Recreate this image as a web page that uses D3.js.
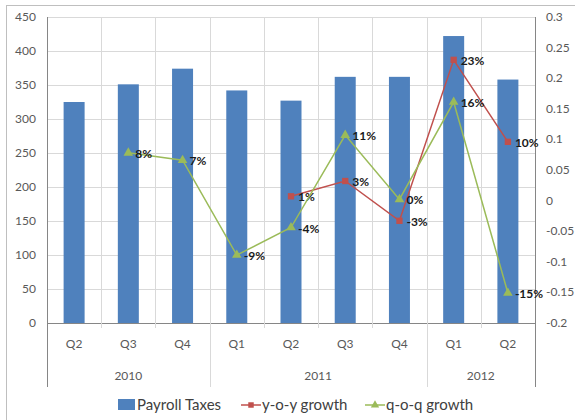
<!DOCTYPE html>
<html>
<head>
<meta charset="utf-8">
<script src="https://cdn.jsdelivr.net/npm/d3@7"></script>
<style>
  body { margin: 0; background: #fff; }
  svg text { font-family: Lato, "Open Sans", sans-serif; }
</style>
</head>
<body>
<div id="chart"></div>
<script>
(function(d3) {
  'use strict';

  var quarters = ['Q2', 'Q3', 'Q4', 'Q1', 'Q2', 'Q3', 'Q4', 'Q1', 'Q2'];
  var years = ['2010', '2010', '2010', '2011', '2011', '2011', '2011', '2012', '2012'];
  var payroll = [325, 351, 374, 342, 327, 362, 362, 422, 358];
  var yoy = [null, null, null, null, 0.007, 0.032, -0.033, 0.23, 0.096];
  var qoq = [null, 0.078, 0.066, -0.089, -0.044, 0.107, 0.002, 0.161, -0.151];
  var leftTicks = [0, 50, 100, 150, 200, 250, 300, 350, 400, 450];
  var rightTicks = [-0.2, -0.15, -0.1, -0.05, 0, 0.05, 0.1, 0.15, 0.2, 0.25, 0.3];

  var width = 575, height = 420;
  var left = 47, right = 535, top = 17, bottom = 323;
  var blue = '#4F81BD', red = '#C0504D', green = '#9BBB59';
  var grid = '#D9D9D9', axisColor = '#868686', textColor = '#595959';

  var svg = d3.select('#chart').append('svg')
    .attr('width', width).attr('height', height);

  // chart border
  svg.append('rect')
    .attr('x', 6.5).attr('y', 5.5)
    .attr('width', width + 10).attr('height', height + 10)
    .attr('fill', '#fff').attr('stroke', '#BFBFBF');

  var idx = d3.range(quarters.length);
  var x = d3.scaleBand().domain(idx).range([left, right]);
  var yL = d3.scaleLinear().domain([0, 450]).range([bottom, top]);
  var yR = d3.scaleLinear().domain([-0.2, 0.3]).range([bottom, top]);

  // horizontal gridlines
  svg.selectAll('.hgrid').data(leftTicks).enter().append('line')
    .attr('x1', left).attr('x2', right)
    .attr('y1', function(d) { return Math.round(yL(d)) + 0.5; })
    .attr('y2', function(d) { return Math.round(yL(d)) + 0.5; })
    .attr('stroke', function(d) { return d === 0 ? axisColor : grid; });

  // vertical gridlines / category ticks
  var bounds = d3.range(quarters.length + 1);
  svg.selectAll('.vgrid').data(bounds).enter().append('line')
    .attr('x1', function(d) { return Math.round(left + d * x.step()) + 0.5; })
    .attr('x2', function(d) { return Math.round(left + d * x.step()) + 0.5; })
    .attr('y1', top)
    .attr('y2', function(d) {
      var isGroup = d === 0 || d === quarters.length || years[d] !== years[d - 1];
      return isGroup ? 387 : bottom + 5;
    })
    .attr('stroke', function(d) {
      return (d === 0 || d === quarters.length) ? axisColor : grid;
    });

  // left axis labels
  svg.selectAll('.ltick').data(leftTicks).enter().append('text')
    .attr('x', 36).attr('y', function(d) { return yL(d) + 4; })
    .attr('text-anchor', 'end').attr('font-size', 12).attr('fill', textColor)
    .text(function(d) { return d; });

  // right axis labels
  svg.selectAll('.rtick').data(rightTicks).enter().append('text')
    .attr('x', 546).attr('y', function(d) { return yR(d) + 4; })
    .attr('font-size', 12).attr('fill', textColor)
    .text(function(d) { return String(+d.toFixed(2)); });

  // bars
  var barW = 21;
  svg.selectAll('.bar').data(payroll).enter().append('rect')
    .attr('x', function(d, i) { return x(i) + x.bandwidth() / 2 - barW / 2; })
    .attr('y', function(d) { return yL(d); })
    .attr('width', barW)
    .attr('height', function(d) { return bottom - yL(d); })
    .attr('fill', blue);

  // category labels
  svg.selectAll('.qlab').data(quarters).enter().append('text')
    .attr('x', function(d, i) { return x(i) + x.bandwidth() / 2; })
    .attr('y', 348).attr('text-anchor', 'middle')
    .attr('font-size', 12).attr('fill', textColor)
    .text(function(d) { return d; });

  var yearGroups = d3.groups(idx, function(i) { return years[i]; });
  svg.selectAll('.ylab').data(yearGroups).enter().append('text')
    .attr('x', function(g) {
      var a = g[1][0], b = g[1][g[1].length - 1];
      return (x(a) + x(b) + x.bandwidth()) / 2;
    })
    .attr('y', 380).attr('text-anchor', 'middle')
    .attr('font-size', 12).attr('fill', textColor)
    .text(function(g) { return g[0]; });

  var pct = function(v) { return Math.round(v * 100) + '%'; };

  function drawSeries(values, color, shape) {
    var pts = idx.filter(function(i) { return values[i] !== null; });
    var line = d3.line()
      .x(function(i) { return x(i) + x.bandwidth() / 2; })
      .y(function(i) { return yR(values[i]); });
    svg.append('path').datum(pts)
      .attr('d', line).attr('fill', 'none')
      .attr('stroke', color).attr('stroke-width', 1.5);
    svg.selectAll(null).data(pts).enter().append('path')
      .attr('d', d3.symbol().type(shape).size(40))
      .attr('transform', function(i) {
        return 'translate(' + (x(i) + x.bandwidth() / 2) + ',' + yR(values[i]) + ')';
      })
      .attr('fill', color);
    svg.selectAll(null).data(pts).enter().append('text')
      .attr('x', function(i) { return x(i) + x.bandwidth() / 2 + 7; })
      .attr('y', function(i) { return yR(values[i]) + 5; })
      .attr('font-size', 12).attr('font-weight', 'bold').attr('fill', '#1a1a1a')
      .text(function(i) { return pct(values[i]); });
  }

  drawSeries(yoy, red, d3.symbolSquare);
  drawSeries(qoq, green, d3.symbolTriangle);

  // legend
  var ly = 405;
  svg.append('rect').attr('x', 118).attr('y', ly - 6).attr('width', 17).attr('height', 11).attr('fill', blue);
  svg.append('text').attr('x', 137).attr('y', ly + 5).attr('font-size', 15).attr('fill', '#404040').text('Payroll Taxes');

  var legendLines = [
    { x: 241, label: 'y-o-y growth', color: red, shape: d3.symbolSquare },
    { x: 365, label: 'q-o-q growth', color: green, shape: d3.symbolTriangle }
  ];
  legendLines.forEach(function(l) {
    svg.append('line').attr('x1', l.x).attr('x2', l.x + 20)
      .attr('y1', ly).attr('y2', ly).attr('stroke', l.color).attr('stroke-width', 1.5);
    svg.append('path').attr('d', d3.symbol().type(l.shape).size(30)())
      .attr('transform', 'translate(' + (l.x + 10) + ',' + ly + ')').attr('fill', l.color);
    svg.append('text').attr('x', l.x + 21).attr('y', ly + 5)
      .attr('font-size', 15).attr('fill', '#404040').text(l.label);
  });

})(window.d3);
</script>
</body>
</html>
